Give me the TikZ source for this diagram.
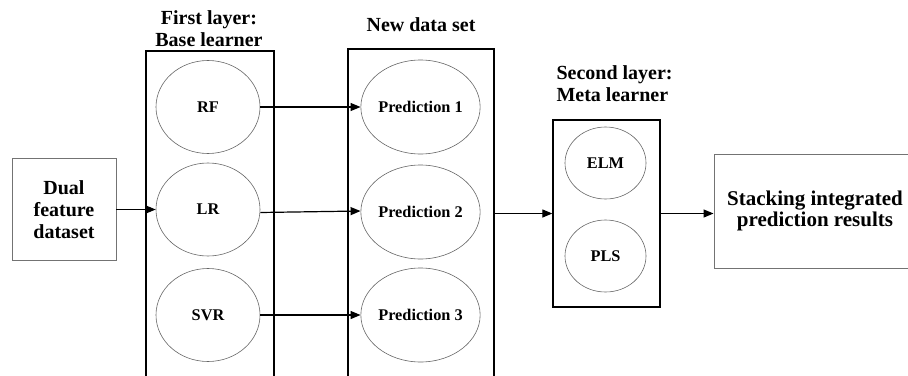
\documentclass[tikz,border=0pt]{standalone}
\usepackage{fontspec}
\setmainfont{Liberation Serif}
\usetikzlibrary{arrows.meta,shapes.geometric}
\begin{document}
\begin{tikzpicture}[x=1pt,y=-1pt,
  every node/.style={font=\bfseries},
  big/.style={font=\fontsize{20}{22}\selectfont\bfseries},
  bigger/.style={font=\fontsize{21}{21.5}\selectfont\bfseries},
  small/.style={font=\fontsize{16.3}{18}\selectfont\bfseries},
  layerbox/.style={draw=black,line width=1.3pt,inner sep=0pt},
  plainbox/.style={draw=black!55,line width=0.9pt,inner sep=0pt,align=center},
  model/.style={ellipse,draw=black!60,line width=0.6pt,inner sep=0pt,small},
  flow/.style={-{Triangle[length=10pt,width=8pt]},line width=1.2pt}
]
\useasboundingbox (0,0) rectangle (908,375);
\clip (0,0) rectangle (908,375);

% input box
\node[plainbox,big,minimum width=104pt,minimum height=102pt] (dual) at (64,209.5)
  {Dual\\feature\\dataset};

% first layer: base learners
\node[layerbox,minimum width=128pt,minimum height=339pt] (base) at (210,220.5) {};
\node[big,align=center] (basetitle) at (209,29) {First layer:\\Base learner};
\node[model,minimum width=104pt,minimum height=93pt] (rf)  at (208,107) {RF};
\node[model,minimum width=104pt,minimum height=93pt] (lr)  at (208,209.5) {LR};
\node[model,minimum width=104pt,minimum height=93pt] (svr) at (208,315) {SVR};

% new data set
\node[layerbox,minimum width=146pt,minimum height=341pt] (newdata) at (421,219.5) {};
\node[big] (newtitle) at (421,25) {New data set};
\node[model,minimum width=105pt,minimum height=94pt] (p1) at (420.5,107) {Prediction 1};
\node[model,minimum width=105pt,minimum height=94pt] (p2) at (420.5,212) {Prediction 2};
\node[model,minimum width=105pt,minimum height=94pt] (p3) at (420.5,315) {Prediction 3};

% second layer: meta learners
\node[layerbox,minimum width=107pt,minimum height=187pt] (meta) at (606.5,213.5) {};
\node[big,align=left,anchor=west] (metatitle) at (553,84) {Second layer:\\Meta learner};
\node[model,minimum width=81pt,minimum height=72pt] (elm) at (605.5,163) {ELM};
\node[model,minimum width=81pt,minimum height=72pt] (pls) at (605.5,256) {PLS};

% output box
\node[plainbox,bigger,minimum width=202pt,minimum height=114pt] (result) at (815,211)
  {Stacking integrated\\prediction results};

% connectors
\draw[flow] (dual.east) -- (lr.west);
\draw[flow] (rf.east) -- (p1.west);
\draw[flow] ([yshift=-3pt]lr.east) -- ([yshift=1pt]p2.west);
\draw[flow] (svr.east) -- (p3.west);
\draw[flow] (meta.west -| newdata.east) -- (meta.west);
\draw[flow] (meta.east) -- (meta.east -| result.west);
\end{tikzpicture}
\end{document}
